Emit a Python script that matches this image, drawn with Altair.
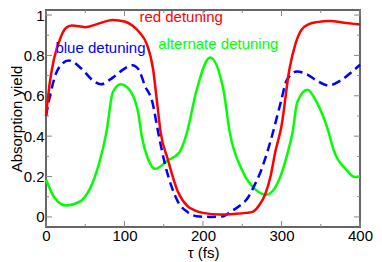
import altair as alt
import pandas as pd

# ---- data ----
red_tau = [0, 5, 10, 19, 25, 33, 50, 65, 85, 100, 110, 120, 128, 136.5, 141.5, 146, 155, 168, 180,
           188, 200, 221, 240, 255, 263, 268, 272, 279, 286, 292, 300, 310, 318, 325, 335, 345, 362, 380, 400]
red_val = [0.5, 0.67, 0.78, 0.893, 0.935, 0.948, 0.94, 0.955, 0.976, 0.968, 0.948, 0.91, 0.86, 0.73, 0.567,
           0.42, 0.287, 0.125, 0.055, 0.035, 0.02, 0.012, 0.015, 0.02, 0.025, 0.04, 0.06, 0.11, 0.2, 0.32,
           0.45, 0.73, 0.86, 0.924, 0.955, 0.965, 0.97, 0.962, 0.953]

blue_tau = [0, 6, 15, 29, 45, 60, 70, 85, 100, 110, 118, 126, 135.6, 143, 151, 160, 168, 180, 192, 210,
            225, 234, 245, 258, 266, 273, 281, 289, 299, 307, 320, 333, 345, 360, 375, 390, 400]
blue_val = [0.5, 0.616, 0.73, 0.775, 0.735, 0.675, 0.657, 0.69, 0.735, 0.751, 0.73, 0.65, 0.567, 0.417,
            0.27, 0.15, 0.076, 0.025, 0.003, 0.0, 0.002, 0.023, 0.05, 0.1, 0.16, 0.22, 0.31, 0.417, 0.567,
            0.68, 0.72, 0.705, 0.675, 0.652, 0.675, 0.72, 0.754]

green_tau = [0, 10, 25, 43, 56, 68, 77, 85, 95, 107, 118, 122, 130, 139, 155, 170, 179, 192, 209, 226,
             234, 250, 267, 281, 296, 308, 314, 320, 333, 345, 360, 366, 383, 393, 400]
green_val = [0.185, 0.1, 0.057, 0.076, 0.14, 0.27, 0.42, 0.616, 0.657, 0.626, 0.504, 0.40, 0.287, 0.238,
             0.28, 0.32, 0.41, 0.63, 0.79, 0.63, 0.42, 0.23, 0.135, 0.11, 0.175, 0.32, 0.417, 0.567, 0.63,
             0.567, 0.42, 0.336, 0.232, 0.198, 0.2]

label_text = ["red detuning", "blue detuning", "alternate detuning"]
label_tau = [119.0, 12.0, 143.0]
label_val = [0.965, 0.81, 0.83]
label_color = ["#ff0000", "#0000ff", "#00ff00"]

x_major = [0, 100, 200, 300, 400]
x_minor = [50, 150, 250, 350]
y_major = [0, 0.2, 0.4, 0.6, 0.8, 1.0]
y_minor = [0.1, 0.3, 0.5, 0.7, 0.9]

W, H = 314, 217
FONT = "Liberation Sans"
xs = alt.Scale(domain=[0, 400], nice=False, zero=False)
ys = alt.Scale(domain=[-0.05, 1.025], nice=False, zero=False)

x_axis = alt.Axis(values=x_major, format="d", domain=False, ticks=False, grid=False,
                  labelFontSize=15, titleFontSize=15, labelFont=FONT, titleFont=FONT,
                  titleFontWeight="normal", labelColor="black", titleColor="black",
                  labelPadding=1, titlePadding=2, labelFlush=False)
y_axis = alt.Axis(values=y_major, format="~g", domain=False, ticks=False, grid=False,
                  labelFontSize=15, titleFontSize=15, labelFont=FONT, titleFont=FONT,
                  titleFontWeight="normal", labelColor="black", titleColor="black",
                  labelPadding=2, titleX=-22, labelFlush=False)


def X(field):
    return alt.X(f"{field}:Q", scale=xs, title="τ (fs)", axis=x_axis)


def Y(field):
    return alt.Y(f"{field}:Q", scale=ys, title="Absorption yield", axis=y_axis)


def line(tau, val, color, dash=None):
    df = pd.DataFrame({"tau": tau, "val": val})
    kw = dict(color=color, strokeWidth=2.5, interpolate="monotone")
    if dash:
        kw["strokeDash"] = dash
    return alt.Chart(df).mark_line(**kw).encode(x=X("tau"), y=Y("val"))


def xticks(vals, length, top):
    df = pd.DataFrame({"v": vals})
    y0 = 0 if top else H
    y1 = length if top else H - length
    return alt.Chart(df).mark_rule(color="#888888", strokeWidth=1).encode(
        x=X("v"), y=alt.value(y0), y2=alt.value(y1))


def yticks(vals, length, right):
    df = pd.DataFrame({"v": vals})
    x0 = W if right else 0
    x1 = W - length if right else length
    return alt.Chart(df).mark_rule(color="#888888", strokeWidth=1).encode(
        y=Y("v"), x=alt.value(x0), x2=alt.value(x1))


lab_df = pd.DataFrame({"t": label_text, "tau": label_tau, "val": label_val, "c": label_color})
labels = alt.Chart(lab_df).mark_text(align="left", baseline="alphabetic", fontSize=15, font=FONT).encode(
    x=X("tau"), y=Y("val"),
    text="t:N",
    color=alt.Color("c:N", scale=None),
)

layers = [xticks(x_major, 6, False), xticks(x_minor, 3, False),
          xticks(x_major, 6, True), xticks(x_minor, 3, True),
          yticks(y_major, 6, False), yticks(y_minor, 3, False),
          yticks(y_major, 6, True), yticks(y_minor, 3, True),
          line(green_tau, green_val, "#00ff00"),
          line(blue_tau, blue_val, "#0000ff", [9, 5]),
          line(red_tau, red_val, "#ff0000"),
          labels]

chart = alt.layer(*layers).properties(
    width=W, height=H,
    padding={"left": 38, "top": 2, "right": 14, "bottom": 35},
    autosize=alt.AutoSizeParams(type="none"),
).configure_view(stroke="#666666", strokeWidth=2)

chart.save("out.html", embed_options={"renderer": "svg", "actions": False})
